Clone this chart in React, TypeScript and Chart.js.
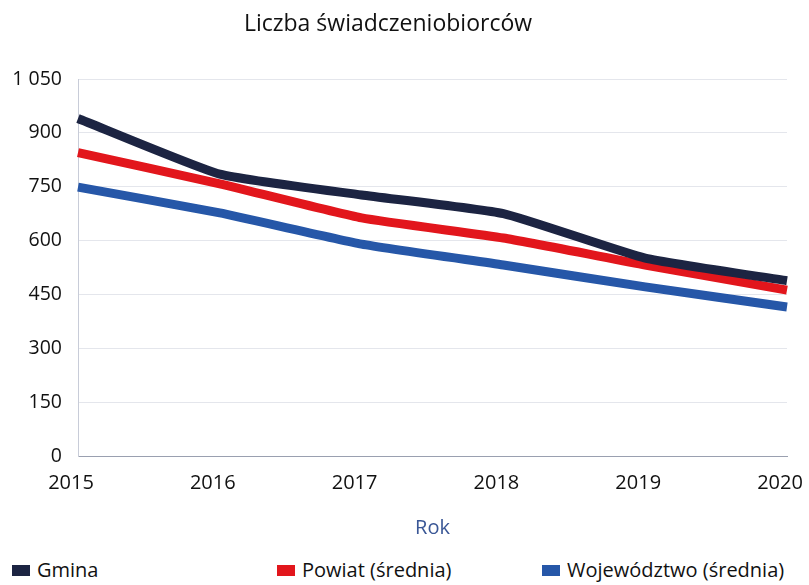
import React, { useEffect, useRef } from "react";
import { Chart, registerables } from "chart.js";

Chart.register(...registerables);

const years = ["2015", "2016", "2017", "2018", "2019", "2020"];
const gmina = [940, 785, 727, 675, 551, 488];
const powiat = [845, 758, 663, 607, 532, 462];
const wojewodztwo = [749, 677, 590, 532, 471, 415];
const yTicks = [0, 150, 300, 450, 600, 750, 900, 1050];

const seriesNames = ["Gmina", "Powiat (średnia)", "Województwo (średnia)"];
const seriesColors = ["#1c2442", "#e2161c", "#2657a8"];

const FONT = "'Open Sans', 'Noto Sans', sans-serif";

function fmt(v: number): string {
  const s = String(v);
  return s.length > 3 ? s.slice(0, s.length - 3) + " " + s.slice(-3) : s;
}

export default function App() {
  const ref = useRef<HTMLCanvasElement | null>(null);

  useEffect(() => {
    if (!ref.current) return;
    const data = [gmina, powiat, wojewodztwo];
    const chart = new Chart(ref.current, {
      type: "line",
      data: {
        labels: years,
        datasets: data.map((d, i) => ({
          label: seriesNames[i],
          data: d,
          borderColor: seriesColors[i],
          backgroundColor: seriesColors[i],
          borderWidth: 9,
          pointRadius: 0,
          tension: 0.15,
          borderCapStyle: "butt" as const,
          borderJoinStyle: "round" as const,
        })),
      },
      options: {
        animation: false,
        responsive: false,
        maintainAspectRatio: false,
        layout: { padding: { left: 0, right: 22, top: 79, bottom: 0 } },
        plugins: {
          legend: { display: false },
          tooltip: { enabled: false },
          title: { display: false },
        },
        scales: {
          x: {
            offset: false,
            grid: { display: false, drawTicks: false },
            border: { display: true, color: "#9aa0b0", width: 1 },
            ticks: {
              color: "#111",
              font: { family: FONT, size: 20 },
              padding: 15,
              labelOffset: -7,
              maxRotation: 0,
              autoSkip: false,
            },
            title: {
              display: true,
              text: "Rok",
              color: "#3a5796",
              font: { family: FONT, size: 20 },
              padding: { top: 0, bottom: 10 },
            },
            afterFit: (scale: any) => {
              scale.height = 94;
              scale.paddingLeft = 0;
              scale.paddingRight = 0;
            },
          },
          y: {
            min: 0,
            max: 1050,
            afterBuildTicks: (scale: any) => {
              scale.ticks = yTicks.map((v) => ({ value: v }));
            },
            grid: { color: "#e4e6ec", lineWidth: 1, drawTicks: false },
            border: { display: true, color: "#c8ccd8", width: 1 },
            ticks: {
              color: "#111",
              font: { family: FONT, size: 19.5 },
              padding: 16,
              callback: (v: any) => fmt(Number(v)),
            },
            afterFit: (scale: any) => {
              scale.width = 78;
            },
          },
        },
      },
    });
    return () => chart.destroy();
  }, []);

  return (
    <div
      style={{
        position: "fixed",
        left: 0,
        top: 0,
        width: 809,
        height: 585,
        background: "#fff",
        fontFamily: FONT,
      }}
    >
      <div
        style={{
          position: "absolute",
          top: 7,
          left: 0,
          width: 776,
          textAlign: "center",
          fontSize: 23,
          lineHeight: "30px",
          color: "#111",
        }}
      >
        Liczba świadczeniobiorców
      </div>
      <canvas ref={ref} width={809} height={550} style={{ display: "block" }} />
      <div
        style={{
          position: "absolute",
          top: 557,
          left: 12,
          display: "grid",
          gridTemplateColumns: "265px 265px 265px",
          fontSize: 20,
          color: "#111",
          lineHeight: "26px",
        }}
      >
        {seriesNames.map((n, i) => (
          <div key={n} style={{ display: "flex", alignItems: "center" }}>
            <span
              style={{
                display: "inline-block",
                width: 18,
                height: 11,
                background: seriesColors[i],
                marginRight: 7,
              }}
            />
            <span>{n}</span>
          </div>
        ))}
      </div>
    </div>
  );
}
